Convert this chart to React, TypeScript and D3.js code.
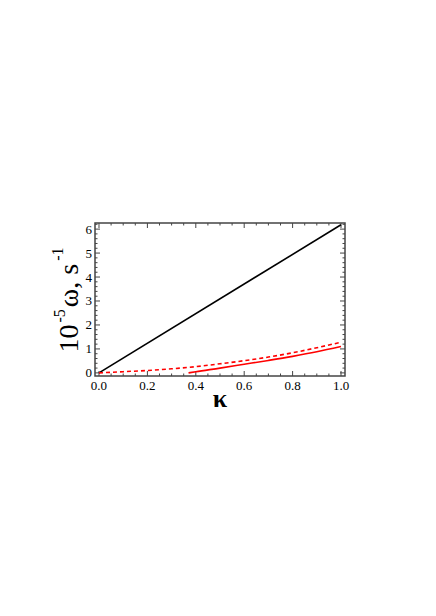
import React from "react";
import * as d3 from "d3";

const blackKappa = [0, 1];
const blackOmega = [0, 6.18];

const dashedKappa = [0, 0.1, 0.2, 0.3, 0.4, 0.5, 0.6, 0.7, 0.8, 0.9, 1.0];
const dashedOmega = [0, 0.05, 0.1, 0.17, 0.26, 0.38, 0.51, 0.66, 0.84, 1.05, 1.28];

const solidKappa = [0.37, 0.4, 0.5, 0.6, 0.7, 0.8, 0.9, 1.0];
const solidOmega = [0, 0.05, 0.2, 0.36, 0.52, 0.69, 0.88, 1.1];

const xTicks = [0, 0.2, 0.4, 0.6, 0.8, 1.0];
const yTicks = [0, 1, 2, 3, 4, 5, 6];

const W = 436;
const H = 616;
const left = 95, right = 345, top = 223, bottom = 376;

export default function App() {
  const x = d3.scaleLinear().domain([-0.0165, 1.0165]).range([left, right]);
  const y = d3.scaleLinear().domain([-0.13, 6.255]).range([bottom, top]);

  const line = d3
    .line<[number, number]>()
    .x((d) => x(d[0]))
    .y((d) => y(d[1]))
    .curve(d3.curveMonotoneX);

  const zip = (a: number[], b: number[]) => a.map((v, i) => [v, b[i]] as [number, number]);

  const xMinor = d3.range(0, 1.0001, 0.05).filter((v) => !xTicks.some((t) => Math.abs(t - v) < 1e-6));
  const yMinor = d3.range(0, 6.2501, 0.2).filter((v) => !yTicks.some((t) => Math.abs(t - v) < 1e-6));

  const frame = "#444";
  const majLen = 5;
  const minLen = 2.5;
  const fontFam = "Liberation Serif, Times New Roman, serif";

  return (
    <svg
      width={W}
      height={H}
      style={{ position: "absolute", left: 0, top: 0, background: "#fff" }}
    >
      <g stroke={frame} strokeWidth={1}>
        {xTicks.map((t) => (
          <g key={"xt" + t}>
            <line x1={x(t)} x2={x(t)} y1={bottom} y2={bottom - majLen} />
            <line x1={x(t)} x2={x(t)} y1={top} y2={top + majLen} />
          </g>
        ))}
        {xMinor.map((t) => (
          <g key={"xm" + t}>
            <line x1={x(t)} x2={x(t)} y1={bottom} y2={bottom - minLen} />
            <line x1={x(t)} x2={x(t)} y1={top} y2={top + minLen} />
          </g>
        ))}
        {yTicks.map((t) => (
          <g key={"yt" + t}>
            <line x1={left} x2={left + majLen} y1={y(t)} y2={y(t)} />
            <line x1={right} x2={right - majLen} y1={y(t)} y2={y(t)} />
          </g>
        ))}
        {yMinor.map((t) => (
          <g key={"ym" + t}>
            <line x1={left} x2={left + minLen} y1={y(t)} y2={y(t)} />
            <line x1={right} x2={right - minLen} y1={y(t)} y2={y(t)} />
          </g>
        ))}
      </g>

      <path d={line(zip(blackKappa, blackOmega)) || ""} fill="none" stroke="#000" strokeWidth={1.6} />
      <path
        d={line(zip(dashedKappa, dashedOmega)) || ""}
        fill="none"
        stroke="#ff0000"
        strokeWidth={1.6}
        strokeDasharray="4,3"
      />
      <path d={line(zip(solidKappa, solidOmega)) || ""} fill="none" stroke="#ff0000" strokeWidth={1.6} />

      <rect x={left} y={top} width={right - left} height={bottom - top} fill="none" stroke={frame} strokeWidth={1.5} />

      <g fontFamily={fontFam} fontSize={13} fill="#000">
        {xTicks.map((t) => (
          <text key={"xl" + t} x={x(t)} y={390} textAnchor="middle">
            {t.toFixed(1)}
          </text>
        ))}
        {yTicks.map((t) => (
          <text key={"yl" + t} x={92} y={y(t) + 4.5} textAnchor="end">
            {t}
          </text>
        ))}
      </g>

      <text x={(left + right) / 2} y={407} textAnchor="middle" fontFamily={fontFam} fontSize={26} fontWeight="bold" fill="#000">
        κ
      </text>
      <text
        transform="translate(78,300) rotate(-90)"
        textAnchor="middle"
        fontFamily={fontFam}
        fontSize={28}
        fill="#000"
      >
        <tspan>10</tspan>
        <tspan fontSize={16} dy={-13} dx={2}>-5</tspan>
        <tspan dy={13} dx={2}>ω, s</tspan>
        <tspan fontSize={16} dy={-15} dx={3}>-1</tspan>
      </text>
    </svg>
  );
}
